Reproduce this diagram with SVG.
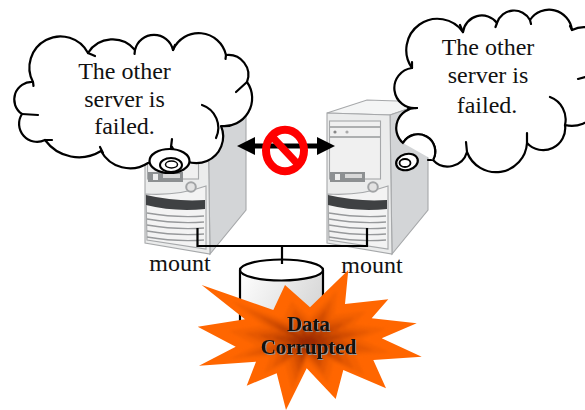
<svg xmlns="http://www.w3.org/2000/svg" width="585" height="410" viewBox="0 0 585 410">
<style>
text{font-family:"Liberation Serif","Times New Roman",serif;fill:#111;text-anchor:middle}
.say,.mnt{font-size:24px}
.hurt{font-size:21px;font-weight:bold;filter:drop-shadow(1px 1px 0 #999)}
.cloud{fill:#fff;stroke:#000;stroke-width:2.2;stroke-linejoin:round}
.tick{fill:none;stroke:#000;stroke-width:2.2;stroke-linecap:round}
.wire{fill:none;stroke:#000;stroke-width:2.2}
.edge{stroke:#a6a8aa;stroke-width:1.1}
.slat{fill:none;stroke:#97999b;stroke-width:1.3}
</style>
<defs>
<linearGradient id="can" x1="0" y1="0" x2="1" y2="0.4"><stop offset="0" stop-color="#fff"/><stop offset="1" stop-color="#d8d8d8"/></linearGradient>
<filter id="soft" x="-20%" y="-20%" width="140%" height="140%"><feGaussianBlur stdDeviation="1.5"/></filter>
<polygon id="star" points="-106.3,-57 -34.7,-32 -23,-57 2,-34.7 40.3,-72 37,-38 80.3,-42.7 63.7,-23.7 108.7,-18.7 73.7,-3.7 113.7,14.7 65.3,18 78,46.3 35.3,28 27.7,57 -1.3,26.3 -22,68 -31.3,31.3 -61.3,43.7 -52,19.7 -109,23.7 -72.3,4.7 -110.3,-15.3 -63,-22.7"/>
<g id="server">
<polygon points="327,113 367,100 428,102 390,115" fill="#f4f5f5" class="edge"/>
<polygon points="390,115 428,102 428,210 392,254" fill="#d3d5d7" class="edge"/>
<polygon points="327,113 390,115 392,254 327,243" fill="#ebecec" class="edge"/>
<rect x="329.500" y="121" width="51" height="58" fill="#f0f0f0" class="edge"/>
<path d="M330 127H380M330 137H380" class="slat"/>
<circle cx="335" cy="132" r="1.600" fill="#888"/>
<circle cx="347" cy="132" r="1.600" fill="#aaa"/>
<rect x="330" y="172" width="35" height="10" fill="#8d9092"/>
<rect x="335" y="174" width="5" height="6" fill="#eee"/>
<rect x="345" y="174" width="17" height="4" fill="#d8d8d8"/>
<path d="M328 194Q360 196 388 186V249L329 240Z" fill="#f3f3f3" class="edge"/>
<path d="M328 195Q358 202 387 200V209Q356 212 328 205Z" fill="#3f4143"/>
<path d="M329 213Q358 218 386 216M329 219Q358 224 386 222M329 225Q358 230 386 228M329 231Q358 236 386 234M329 237Q358 242 386 240" class="slat"/>
<circle cx="373" cy="187" r="4.800" fill="#e3e3e3" stroke="#a2a4a6" stroke-width="2"/>
</g>
</defs>

<g id="server-left"><use href="#server" x="-182"/></g>
<g id="server-right"><use href="#server"/></g>

<g id="connectors">
<path class="wire" d="M197.500 228V246H367V228"/>
<path d="M237 146L255 137V143.500H317V137L335 146L317 155V148.500H255V155Z" fill="#000"/>
</g>

<g id="no-sign">
<ellipse cx="285" cy="150.500" rx="19" ry="20.700" fill="none" stroke="#f00" stroke-width="8"/>
<path d="M271 135.500L299 165.500" stroke="#f00" stroke-width="7.500"/>
</g>

<g id="cloud-left">
<path class="cloud" d="M33 82A30 30 0 0 1 88 53A29 29 0 0 1 135 50A19.500 19.500 0 0 1 173 50A28 28 0 0 1 226 55A20 20 0 0 1 247 82A28 28 0 0 1 221 126A22 22 0 0 1 172 147A40 40 0 0 1 148 163A33 33 0 0 1 101 151A42 42 0 0 1 45 140A18 18 0 0 1 22 114A17.500 17.500 0 0 1 33 82Z"/>
<path class="tick" d="M33 82L33.500 86M88 53L95 56M135 50L134.500 54M173 50L175 45M226 55L225.500 59M247 82L236 92M202 105A24 24 0 0 1 216 138M172 139L171 147M100 147L103 153M45 140L52 140M22 114L38 115"/>
<ellipse cx="169.500" cy="161" rx="20" ry="12" fill="#fff" stroke="#000" stroke-width="2.200"/>
<ellipse cx="171" cy="165" rx="11" ry="7" fill="none" stroke="#000" stroke-width="2"/>
<ellipse cx="171.500" cy="164.500" rx="6" ry="3.500" fill="none" stroke="#000" stroke-width="1.500"/>
<text class="say" x="124.500" y="79">The other</text>
<text class="say" x="124.500" y="107">server is</text>
<text class="say" x="124.500" y="134">failed.</text>
</g>

<g id="cloud-right">
<path class="cloud" d="M412 68A31 31 0 0 1 463 32A19 19 0 0 1 497 23A18 18 0 0 1 530 20A23 23 0 0 1 572 30A26 26 0 0 1 596 78A30 30 0 0 1 565 125A22 22 0 0 1 527 143A31 31 0 0 1 467 152A20 20 0 0 1 433 160A17 17 0 0 0 403 143A20 20 0 0 1 417 108A20 20 0 0 1 412 68Z"/>
<path class="tick" d="M463 32L460 25M497 23L495.500 27M530 20L531 24M572 30L570 26M585 77L578 79M550 97A24 24 0 0 1 565 125M527 143L527 133M467 152L466 142M433 160L428 160M417 108L408 108M412 68L412 62"/>
<path d="M403 143A17 17 0 0 1 433 160" fill="#fff" stroke="#000" stroke-width="2.200"/>
<ellipse cx="407" cy="162" rx="11" ry="8" transform="rotate(-15 407 162)" fill="#fff" stroke="#000" stroke-width="2.200"/>
<ellipse cx="405" cy="163" rx="5.500" ry="4" fill="none" stroke="#000" stroke-width="1.800"/>
<text class="say" x="488" y="55">The other</text>
<text class="say" x="488" y="83">server is</text>
<text class="say" x="487" y="113">failed.</text>
</g>

<g id="disk">
<path d="M240 270V330H323V270" fill="url(#can)" stroke="#000" stroke-width="2.200"/>
<ellipse cx="281.500" cy="270" rx="41.500" ry="10.500" fill="#fff" stroke="#000" stroke-width="2.200"/>
<path class="wire" d="M282 246V264"/>
</g>

<text class="mnt" x="180" y="271">mount</text>
<text class="mnt" x="372" y="273">mount</text>

<g id="burst">
<use href="#star" transform="translate(308 342)" fill="#ff6600"/>
<g filter="url(#soft)">
<use href="#star" transform="translate(308 342) scale(.72)" fill="#f46100"/>
<use href="#star" transform="translate(308 342) scale(.58)" fill="#e65800"/>
<use href="#star" transform="translate(308 342) scale(.45)" fill="#d44e00"/>
<use href="#star" transform="translate(308 342) scale(.32)" fill="#bf4200"/>
<use href="#star" transform="translate(308 342) scale(.2)" fill="#ab3400"/>
<use href="#star" transform="translate(308 342) scale(.1)" fill="#9c2a00"/>
</g>
<text class="hurt" x="308.500" y="331">Data</text>
<text class="hurt" x="308.500" y="354">Corrupted</text>
</g>
</svg>
